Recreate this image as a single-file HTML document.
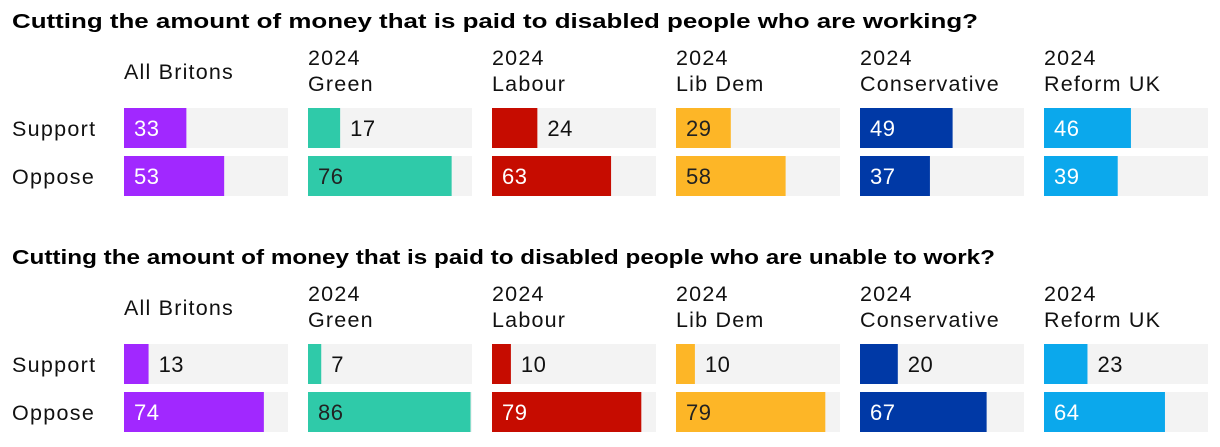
<!DOCTYPE html>
<html><head><meta charset="utf-8"><style>
body{margin:0;width:1220px;height:442px;background:#fff;font-family:"Liberation Sans",sans-serif;overflow:hidden}
svg text{font-family:"Liberation Sans",sans-serif}
</style></head><body>
<svg id="c" width="1220" height="442"></svg>
<script>
const parties=["All Britons","2024|Green","2024|Labour","2024|Lib Dem","2024|Conservative","2024|Reform UK"];
const colors=["#a128ff","#2fcaa9","#c60c00","#fdb627","#0039a6","#0ba8ec"];
const darkText=[false,true,false,true,false,false];
const questions=["Cutting the amount of money that is paid to disabled people who are working?","Cutting the amount of money that is paid to disabled people who are unable to work?"];
const titleLens=[966,983];
const rowLabels=["Support","Oppose"];
const q1Support=[33,17,24,29,49,46];
const q1Oppose=[53,76,63,58,37,39];
const q2Support=[13,7,10,10,20,23];
const q2Oppose=[74,86,79,79,67,64];
const data=[[q1Support,q1Oppose],[q2Support,q2Oppose]];
const svg=document.getElementById('c');
const NS="http://www.w3.org/2000/svg";
function mk(t,a,txt){const e=document.createElementNS(NS,t);for(const k in a)e.setAttribute(k,a[k]);if(txt!=null)e.textContent=txt;svg.appendChild(e);return e;}
const colX=i=>124+i*184;
const trackW=164;
const xs=v=>v*1.89;
const secY=[0,236];
questions.forEach((q,s)=>{
  const y0=secY[s];
  const t=mk('text',{x:12,y:y0+28,'font-size':20,'font-weight':'bold',fill:'#000',textLength:titleLens[s],lengthAdjust:'spacingAndGlyphs'},q);
  
  
  parties.forEach((p,i)=>{
    const parts=p.split('|');
    parts.forEach((line,j)=>{
      const yy=parts.length===1?y0+79:y0+65+j*26;
      const h=mk('text',{x:colX(i),y:yy,'font-size':21.5,'letter-spacing':1.2,fill:'#111'},line);
      
      
    });
  });
  rowLabels.forEach((r,ri)=>{
    const by=y0+108+ri*48;
    const l=mk('text',{x:12,y:by+28,'font-size':21.5,'letter-spacing':1.3,fill:'#111'},r);
    
    
    parties.forEach((p,i)=>{
      const v=data[s][ri][i];
      const tr=mk('rect',{x:colX(i),y:by,width:trackW,height:40,fill:'#f3f3f3'});
      
      
      const b=mk('rect',{x:colX(i),y:by,width:xs(v),height:40,fill:colors[i]});
      
      
      const inside=xs(v)>50;
      const tx=inside?colX(i)+10:colX(i)+xs(v)+10;
      const fill=inside?(darkText[i]?'#222':'#fff'):'#111';
      const vt=mk('text',{x:tx,y:by+28,'font-size':22,'letter-spacing':0.5,fill:fill},v);
      
      
    });
  });
});
</script>
</body></html>
